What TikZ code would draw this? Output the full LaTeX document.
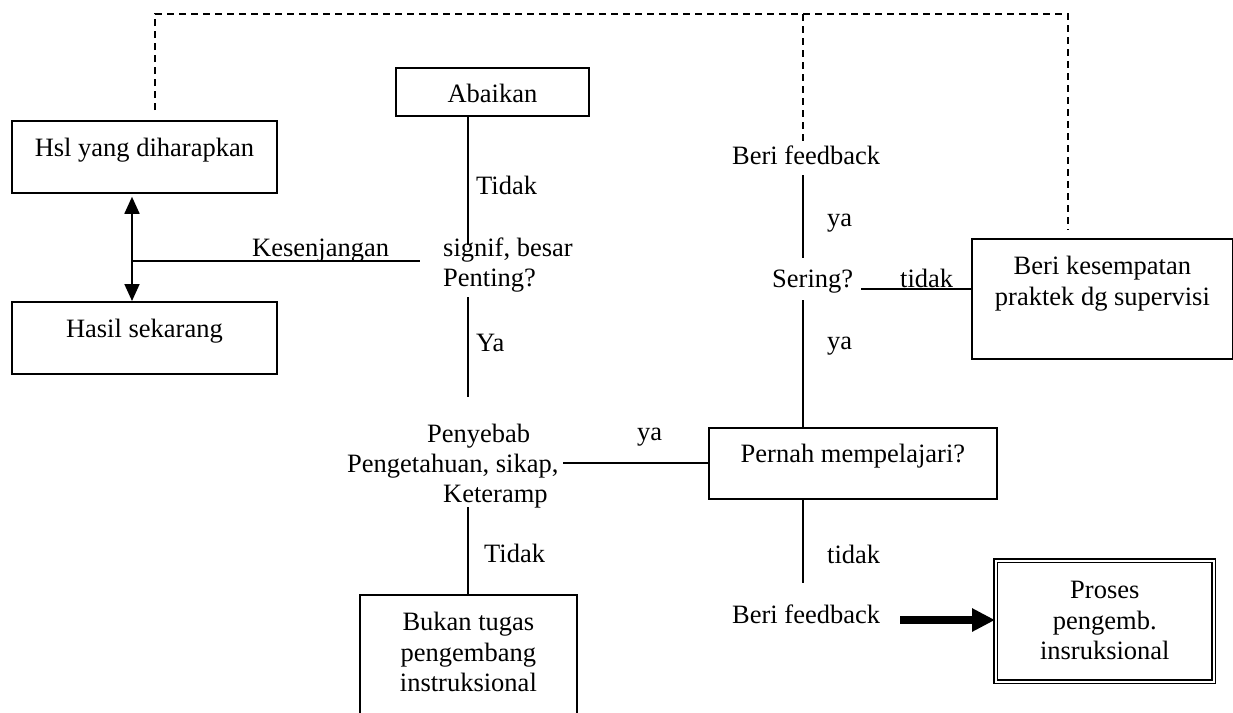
\documentclass[tikz,border=0pt]{standalone}
\usepackage{fontspec}
\setmainfont{Liberation Serif}
\usetikzlibrary{arrows.meta}
% stacked lines whose reference point is the first baseline
\newcommand\txtlines[2][c]{\begin{tabular}[t]{@{}#1@{}}#2\end{tabular}}
\begin{document}
\begin{tikzpicture}[x=1pt,y=-1pt,
  every node/.style={font=\fontsize{26.5}{30.4}\selectfont, inner sep=0pt},
  box/.style={draw, line width=1.8pt, anchor=north west},
  conn/.style={line width=1.8pt},
  loop/.style={line width=1.6pt, dash pattern=on 7pt off 5pt},
  lbl/.style={anchor=base west},
  gaptip/.tip={Triangle[length=17pt,width=15pt]},
]
\useasboundingbox (0,0) rectangle (1233,712);

% boxes
\node[box, minimum width=265pt, text height=36pt, text depth=36pt] (hsl) at (11,120) {Hsl yang diharapkan};
\node[box, minimum width=265pt, text height=36pt, text depth=36pt] (hasil) at (11,301) {Hasil sekarang};
\node[box, minimum width=193pt, text height=35pt, text depth=13pt] (abaikan) at (395,67) {Abaikan};
\node[box, minimum width=288pt, text height=35pt, text depth=36pt] (pernah) at (708,427) {Pernah mempelajari?};
\node[box, minimum width=261pt, text height=36pt, text depth=84pt] (praktek) at (971,238) {\txtlines{Beri kesempatan\\praktek dg supervisi}};
\node[box, minimum width=217pt, text height=36pt, text depth=150pt] (bukan) at (359,594) {\txtlines{Bukan tugas\\pengembang\\instruksional}};
\node[box, double, double distance=2pt, line width=1.6pt, minimum width=218pt, text height=38pt, text depth=83pt] (proses) at (995,560) {\txtlines{Proses\\pengemb.\\insruksional}};

% free-standing texts
\node[lbl] (kes) at (252,256) {Kesenjangan};
\node[lbl] (tidakA) at (476,194) {Tidak};
\node[lbl] (penting) at (443,256) {\txtlines[l]{signif, besar\\Penting?}};
\node[lbl] (yaA) at (476,351) {Ya};
\node[lbl] (sebab) at (347,442) {\txtlines[l]{\hspace*{80pt}Penyebab\\Pengetahuan, sikap,\\\hspace*{96pt}Keteramp}};
\node[lbl] (yaB) at (637,440) {ya};
\node[lbl] (tidakB) at (484,562) {Tidak};
\node[lbl] (fbA) at (732,164) {Beri feedback};
\node[lbl] (yaC) at (827,226) {ya};
\node[lbl] (sering) at (772,287) {Sering?};
\node[lbl] (tidakC) at (900,287) {tidak};
\node[lbl] (yaD) at (827,349) {ya};
\node[lbl] (tidakD) at (827,563) {tidak};
\node[lbl] (fbB) at (732,623) {Beri feedback};

% connector ends
\coordinate (gapL) at (132,261);
\coordinate (gapR) at (420,261);
\coordinate (q1) at (468,245);
\coordinate (q2top) at (468,297);
\coordinate (q2bot) at (468,397);
\coordinate (c1) at (563,463);
\coordinate (c2) at (468,507);
\coordinate (f1) at (803,175);
\coordinate (f2) at (803,258);
\coordinate (s1) at (803,300);
\coordinate (s2) at (861,289);
\coordinate (p1) at (803,583);
\coordinate (a1) at (900,620);
\coordinate (d1) at (155,110);
\coordinate (d2) at (155,14);
\coordinate (d3) at (1068,14);
\coordinate (d4) at (1068,230);
\coordinate (d5) at (803,14);
\coordinate (d6) at (803,142);

% connectors
\draw[conn, gaptip-gaptip] ([yshift=-3pt]hsl.south -| gapL) -- (hasil.north -| gapL);
\draw[conn] (gapL) -- (gapR);
\draw[conn] (abaikan.south -| q1) -- (q1);
\draw[conn] (q2top) -- (q2bot);
\draw[conn] (c1) -- (pernah.west |- c1);
\draw[conn] (c2) -- (bukan.north -| c2);
\draw[conn] (f1) -- (f2);
\draw[conn] (s1) -- (pernah.north -| s1);
\draw[conn] (s2) -- (praktek.west |- s2);
\draw[conn] (pernah.south -| p1) -- (p1);
\draw[line width=8pt, -{Triangle[length=23pt,width=22pt]}] (a1) -- (proses.west |- a1);

% dashed feedback loop
\draw[loop] (d1) -- (d2) -- (d3) -- (d4);
\draw[loop] (d5) -- (d6);
\end{tikzpicture}
\end{document}
